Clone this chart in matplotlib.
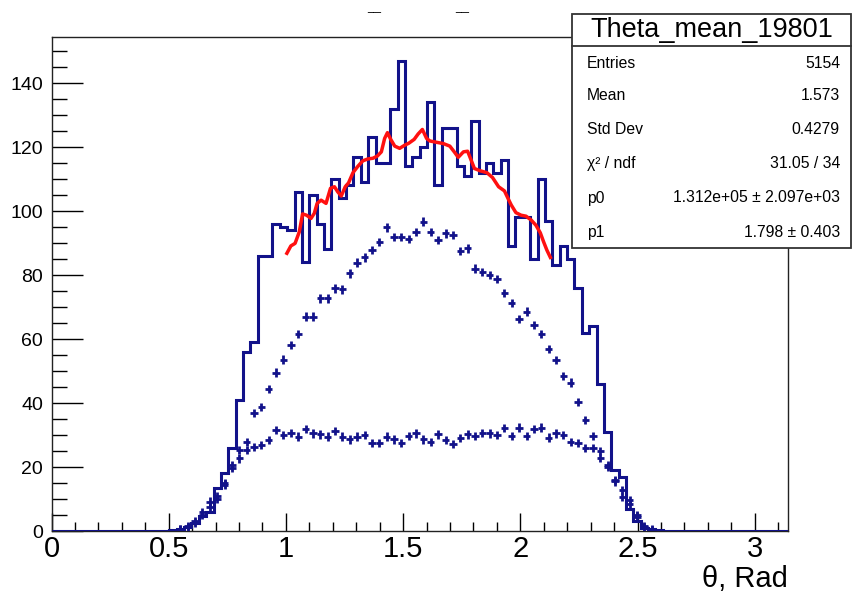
import numpy as np
import matplotlib
matplotlib.use("Agg")
import matplotlib.pyplot as plt
from matplotlib.patches import Rectangle
from matplotlib.lines import Line2D
from matplotlib.ticker import MultipleLocator

plt.rcParams['font.family'] = ['Liberation Sans', 'DejaVu Sans']

# ---------------- data ----------------
n_bins = 100
x_min, x_max = 0.0, np.pi
first_bin = 16          # index of first listed bin of the step histogram
hist_vals = [0.3, 0.7, 1.3, 2.6, 4.7, 6.0, 13.4, 18.0, 26.0, 41.0, 56.0, 59.0,
             86.0, 86.0, 96.0, 95.0, 94.0, 106.0, 84.0, 105.0, 96.0, 88.0,
             110.0, 104.0, 108.0, 117.0, 109.0, 123.0, 115.0, 115.0, 132.0,
             147.0, 114.0, 117.0, 120.0, 134.0, 108.0, 126.0, 126.0, 114.0,
             111.0, 128.0, 112.0, 115.0, 112.0, 116.0, 89.0, 98.0, 98.0, 85.0,
             110.0, 97.0, 83.0, 89.0, 85.0, 76.0, 62.0, 64.0, 46.0, 31.0,
             19.0, 17.0, 7.0, 3.0, 1.0, 0.5, 0.3]

first_pt = 17           # index of first listed bin of the point series
upper_pts = [0.7, 1.5, 3.2, 6.0, 9.2, 11.0, 15.1, 20.5, 22.7, 27.9, 36.8, 38.8,
             44.3, 49.5, 53.6, 58.1, 61.5, 67.0, 67.0, 72.7, 72.7, 75.8, 75.5,
             80.5, 83.9, 85.5, 87.8, 90.4, 94.9, 91.8, 91.8, 91.3, 93.5, 96.7,
             93.5, 90.9, 93.0, 92.6, 87.6, 88.3, 82.0, 81.0, 80.0, 78.8, 74.3,
             71.2, 66.3, 68.6, 64.3, 61.6, 56.8, 53.4, 48.4, 46.4, 40.4, 34.7,
             29.7, 25.1, 20.7, 15.9, 12.8, 9.7, 5.0, 1.5, 0.5]
lower_pts = [0.5, 1.2, 2.5, 5.0, 7.5, 10.0, 14.5, 19.7, 25.3, 25.3, 26.3, 26.9,
             28.4, 31.6, 30.0, 30.7, 29.5, 31.8, 30.5, 30.2, 29.5, 31.3, 29.5,
             28.6, 29.5, 30.0, 27.6, 27.6, 29.5, 28.6, 27.4, 29.7, 30.5, 28.6,
             27.9, 30.2, 28.4, 27.2, 29.0, 30.2, 29.7, 30.7, 30.5, 30.0, 32.1,
             29.7, 32.3, 29.7, 31.8, 32.3, 29.2, 30.5, 30.0, 27.9, 27.4, 26.0,
             26.0, 22.9, 20.0, 15.5, 10.7, 8.5, 4.5, 1.2, 0.4]
pt_err = 1.3

fit_x = [1.004, 1.021, 1.039, 1.057, 1.071, 1.088, 1.107, 1.121, 1.133, 1.150,
         1.171, 1.190, 1.207, 1.221, 1.236, 1.253, 1.267, 1.286, 1.307, 1.328,
         1.350, 1.371, 1.390, 1.407, 1.421, 1.433, 1.447, 1.464, 1.485, 1.507,
         1.524, 1.547, 1.564, 1.582, 1.600, 1.614, 1.642, 1.671, 1.699, 1.718,
         1.735, 1.757, 1.775, 1.789, 1.804, 1.828, 1.857, 1.881, 1.907, 1.932,
         1.947, 1.961, 1.981, 2.003, 2.024, 2.046, 2.066, 2.085, 2.099, 2.113,
         2.128]
fit_y = [86.8, 89.1, 89.9, 93.5, 99.1, 98.7, 97.7, 99.3, 102.4, 103.4, 102.4,
         107.1, 107.6, 106.0, 104.7, 107.6, 108.8, 112.0, 114.0, 115.7, 116.3,
         116.5, 117.2, 118.5, 122.7, 124.5, 122.4, 120.3, 119.6, 120.6, 121.2,
         122.4, 124.1, 125.5, 122.7, 121.9, 121.5, 121.1, 120.3, 118.5, 116.8,
         118.5, 118.7, 116.1, 113.3, 112.6, 112.0, 110.5, 107.6, 106.3, 104.0,
         101.9, 99.5, 98.7, 98.4, 97.2, 95.6, 93.2, 90.4, 87.8, 85.5]

stats_title = "Theta_mean_19801"
stats_labels = ["Entries", "Mean", "Std Dev", "χ² / ndf", "p0", "p1"]
stats_values = ["5154", "1.573", "0.4279", "31.05 / 34",
                "1.312e+05 ± 2.097e+03", "1.798 ± 0.403"]
x_label = "θ, Rad"
y_max = 154.4

# ---------------- figure ----------------
W, H = 852, 597
fig = plt.figure(figsize=(W / 100, H / 100), dpi=100)
fig.patch.set_facecolor("white")

def fx(px):
    return px / W

def fy(py):
    return 1 - py / H

ax_l, ax_r, ax_t, ax_b = 51.5, 788, 37, 531
ax = fig.add_axes([fx(ax_l), fy(ax_b), fx(ax_r) - fx(ax_l), fy(ax_t) - fy(ax_b)])

navy = "#12128a"
edges = np.linspace(x_min, x_max, n_bins + 1)
width = edges[1] - edges[0]
full = np.zeros(n_bins)
full[first_bin:first_bin + len(hist_vals)] = hist_vals
ax.stairs(full, edges, color=navy, lw=2.2, baseline=None, zorder=3)

idx = np.arange(first_pt, first_pt + len(upper_pts))
centers = (edges[idx] + edges[idx + 1]) / 2
for series in (upper_pts, lower_pts):
    ax.errorbar(centers, series, xerr=width / 2, yerr=pt_err, fmt='none',
                ecolor=navy, elinewidth=2.0, capsize=0, zorder=4)

ax.plot(fit_x, fit_y, color="#ff1010", lw=2.5, zorder=5)

ax.set_xlim(x_min, x_max)
ax.set_ylim(0, y_max)

ax.xaxis.set_major_locator(MultipleLocator(0.5))
ax.xaxis.set_minor_locator(MultipleLocator(0.1))
ax.yaxis.set_major_locator(MultipleLocator(20))
ax.yaxis.set_minor_locator(MultipleLocator(5))
ax.set_xticks([0, 0.5, 1, 1.5, 2, 2.5, 3])
ax.set_xticklabels(["0", "0.5", "1", "1.5", "2", "2.5", "3"])

ax.tick_params(axis='x', which='major', direction='in', length=13, width=1,
               labelsize=21, pad=3, top=False)
ax.tick_params(axis='x', which='minor', direction='in', length=6.5, width=1, top=False)
ax.tick_params(axis='y', which='major', direction='in', length=22, width=1,
               labelsize=14, pad=6, right=False)
ax.tick_params(axis='y', which='minor', direction='in', length=11, width=1, right=False)
for sp in ax.spines.values():
    sp.set_linewidth(1.0)
    sp.set_color("#222222")

ax.set_xlabel(x_label, fontsize=21, loc='right')
ax.xaxis.set_label_coords(1.0, -0.068)

# title remnants (underscores of the clipped title)
for px in (374, 462):
    fig.text(fx(px), fy(0.8), "__", fontsize=9, ha='center', va='top', color="black")

# ---------------- stats box ----------------
bx0, bx1, by0, by1, bsep = 572, 851, 14, 248, 46
fig.add_artist(Rectangle((fx(bx0), fy(by1)), fx(bx1) - fx(bx0), fy(by0) - fy(by1),
                         transform=fig.transFigure, facecolor="white",
                         edgecolor="#333333", lw=1.3, zorder=10))
fig.add_artist(Line2D([fx(bx0), fx(bx1)], [fy(bsep), fy(bsep)],
                      transform=fig.transFigure, color="#333333", lw=1.3, zorder=11))
fig.text(fx((bx0 + bx1) / 2), fy(30), stats_title, fontsize=19.5,
         ha='center', va='center', zorder=12)
row_y = [63, 96, 130, 164, 198, 232]
for lab, val, ry in zip(stats_labels, stats_values, row_y):
    fig.text(fx(587), fy(ry), lab, fontsize=11.3, ha='left', va='center', zorder=12)
    fig.text(fx(840), fy(ry), val, fontsize=11.3, ha='right', va='center', zorder=12)

fig.savefig("out.png", dpi=100)
